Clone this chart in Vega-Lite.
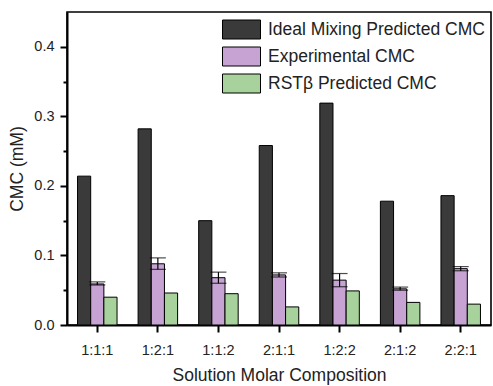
{
  "$schema": "https://vega.github.io/schema/vega-lite/v6.json",
  "width": 424,
  "height": 313,
  "autosize": {"type": "none"},
  "padding": {"left": 67, "top": 12, "right": 2, "bottom": 61},
  "background": "white",
  "config": {
    "font": "Liberation Sans",
    "view": {"stroke": "black", "strokeWidth": 1.6},
    "axis": {"labelColor": "#222", "titleColor": "#222", "domainColor": "black", "tickColor": "black", "grid": false}
  },
  "data": {
    "values": [
      {"comp": "1:1:1", "series": "Ideal Mixing Predicted CMC", "value": 0.214},
      {"comp": "1:2:1", "series": "Ideal Mixing Predicted CMC", "value": 0.282},
      {"comp": "1:1:2", "series": "Ideal Mixing Predicted CMC", "value": 0.150},
      {"comp": "2:1:1", "series": "Ideal Mixing Predicted CMC", "value": 0.258},
      {"comp": "1:2:2", "series": "Ideal Mixing Predicted CMC", "value": 0.319},
      {"comp": "2:1:2", "series": "Ideal Mixing Predicted CMC", "value": 0.178},
      {"comp": "2:2:1", "series": "Ideal Mixing Predicted CMC", "value": 0.186},
      {"comp": "1:1:1", "series": "Experimental CMC", "value": 0.059, "lo": 0.0575, "hi": 0.062},
      {"comp": "1:2:1", "series": "Experimental CMC", "value": 0.088, "lo": 0.080, "hi": 0.0965},
      {"comp": "1:1:2", "series": "Experimental CMC", "value": 0.068, "lo": 0.060, "hi": 0.076},
      {"comp": "2:1:1", "series": "Experimental CMC", "value": 0.072, "lo": 0.069, "hi": 0.075},
      {"comp": "1:2:2", "series": "Experimental CMC", "value": 0.0645, "lo": 0.055, "hi": 0.074},
      {"comp": "2:1:2", "series": "Experimental CMC", "value": 0.052, "lo": 0.050, "hi": 0.0545},
      {"comp": "2:2:1", "series": "Experimental CMC", "value": 0.081, "lo": 0.078, "hi": 0.084},
      {"comp": "1:1:1", "series": "RSTβ Predicted CMC", "value": 0.040},
      {"comp": "1:2:1", "series": "RSTβ Predicted CMC", "value": 0.046},
      {"comp": "1:1:2", "series": "RSTβ Predicted CMC", "value": 0.045},
      {"comp": "2:1:1", "series": "RSTβ Predicted CMC", "value": 0.026},
      {"comp": "1:2:2", "series": "RSTβ Predicted CMC", "value": 0.049},
      {"comp": "2:1:2", "series": "RSTβ Predicted CMC", "value": 0.0325},
      {"comp": "2:2:1", "series": "RSTβ Predicted CMC", "value": 0.030}
    ]
  },
  "layer": [
    {
      "mark": {"type": "bar", "stroke": "black", "strokeWidth": 1},
      "encoding": {
        "x": {
          "field": "comp", "type": "nominal", "sort": null,
          "title": "Solution Molar Composition",
          "scale": {"paddingInner": 0, "paddingOuter": 0},
          "axis": {"labelAngle": 0, "labelFontSize": 14.5, "titleFontSize": 17.5, "titleFontWeight": "normal", "tickSize": 7, "tickWidth": 2, "domainWidth": 2, "labelPadding": 11, "titleY": 55, "titleBaseline": "alphabetic"}
        },
        "xOffset": {"field": "series", "type": "nominal", "sort": null, "scale": {"paddingInner": 0, "paddingOuter": 0.8}},
        "y": {
          "field": "value", "type": "quantitative", "title": "CMC (mM)",
          "scale": {"domain": [0, 0.45], "nice": false},
          "axis": {"values": [0, 0.1, 0.2, 0.3, 0.4], "format": ".1f", "labelFontSize": 14.5, "titleFontSize": 17.5, "titleFontWeight": "normal", "tickSize": 7, "tickWidth": 2, "domainWidth": 2, "labelPadding": 6, "titlePadding": 7}
        },
        "color": {
          "field": "series", "type": "nominal",
          "scale": {"domain": ["Ideal Mixing Predicted CMC", "Experimental CMC", "RSTβ Predicted CMC"], "range": ["#3a3a3a", "#c6a3d3", "#a8d29c"]},
          "legend": {
            "title": null, "orient": "none", "legendX": 164.5, "legendY": 7.5, "padding": 0,
            "symbolType": "M-2,-1H2V1H-2Z", "symbolSize": 361, "symbolStrokeColor": "black", "symbolStrokeWidth": 1, "symbolOpacity": 1,
            "labelFontSize": 17.5, "labelColor": "#222", "labelOffset": 16.5, "labelLimit": 0, "rowPadding": 3
          }
        }
      }
    },
    {
      "transform": [{"filter": "isValid(datum.lo)"}],
      "mark": {"type": "rule", "color": "black", "strokeWidth": 1.2},
      "encoding": {
        "x": {"field": "comp", "type": "nominal", "sort": null, "title": "Solution Molar Composition"},
        "xOffset": {"field": "series", "type": "nominal", "sort": null},
        "y": {"field": "lo", "type": "quantitative", "axis": null},
        "y2": {"field": "hi"}
      }
    },
    {
      "transform": [{"filter": "isValid(datum.lo)"}],
      "mark": {"type": "tick", "color": "black", "thickness": 1.2, "size": 16},
      "encoding": {
        "x": {"field": "comp", "type": "nominal", "sort": null, "title": "Solution Molar Composition"},
        "xOffset": {"field": "series", "type": "nominal", "sort": null},
        "y": {"field": "lo", "type": "quantitative", "axis": null}
      }
    },
    {
      "transform": [{"filter": "isValid(datum.hi)"}],
      "mark": {"type": "tick", "color": "black", "thickness": 1.2, "size": 16},
      "encoding": {
        "x": {"field": "comp", "type": "nominal", "sort": null, "title": "Solution Molar Composition"},
        "xOffset": {"field": "series", "type": "nominal", "sort": null},
        "y": {
          "field": "hi", "type": "quantitative",
          "axis": {"orient": "left", "values": [0.05, 0.15, 0.25, 0.35], "labels": false, "domain": false, "title": null, "tickSize": 4, "tickWidth": 2}
        }
      }
    }
  ],
  "resolve": {"axis": {"y": "independent"}}
}
